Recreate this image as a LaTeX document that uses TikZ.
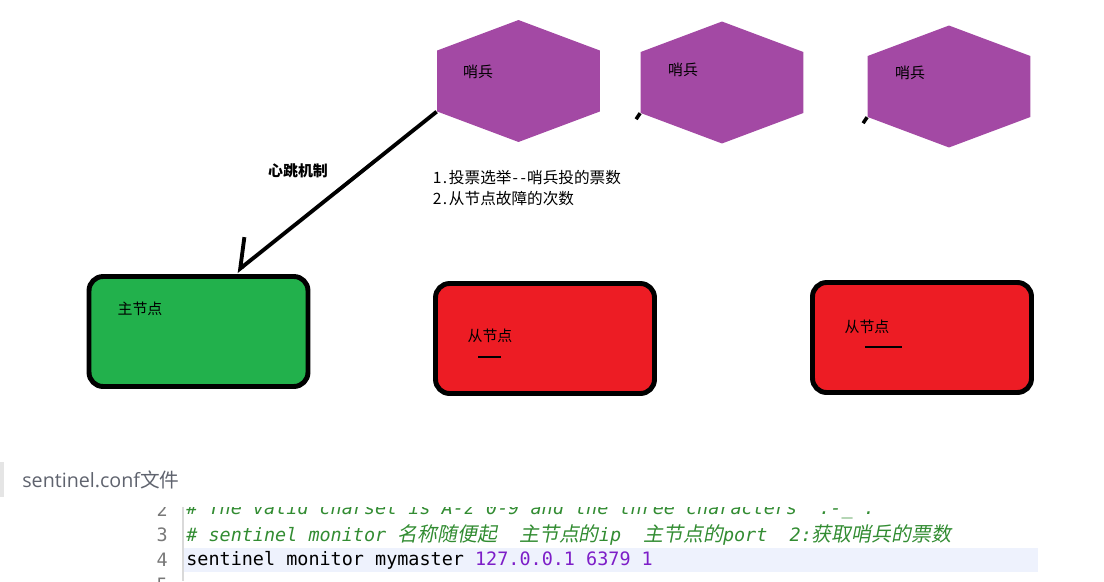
\documentclass[tikz,border=0pt]{standalone}
\usepackage{fontspec}
\newfontfamily\cjk{Noto Sans CJK SC}
\newfontfamily\cjkit[FakeSlant=0.2, Scale=1.08]{Noto Sans CJK SC}
\newfontfamily\codefont{DejaVu Sans Mono}
\newfontfamily\uifont{Open Sans}
\usetikzlibrary{shapes.geometric, arrows.meta, positioning}
\definecolor{sentinelpurple}{RGB}{163,73,164}
\definecolor{mastergreen}{RGB}{34,177,76}
\definecolor{slavered}{RGB}{237,28,36}
\definecolor{commentgreen}{RGB}{50,140,50}
\definecolor{numberpurple}{RGB}{125,30,200}
\definecolor{linehl}{RGB}{238,242,253}
\definecolor{gutter}{RGB}{120,120,120}
\definecolor{uigray}{RGB}{95,99,110}
% half-width latin characters in the notes
\newcommand\halfw[1]{\makebox[0.5em]{#1}}

\begin{document}
\begin{tikzpicture}[
    x=0.02cm, y=-0.02cm,
    sentinel/.style={regular polygon, regular polygon sides=6, shape border rotate=30, minimum size=2.44cm, inner sep=0pt, xscale=1.54, fill=sentinelpurple},
    redisbox/.style={rectangle, draw=black, line width=2.8pt, rounded corners=8pt, minimum width=4.38cm, minimum height=2.2cm},
    label/.style={font=\cjk\fontsize{8.5}{10}\selectfont, inner sep=0pt},
    note/.style={font=\cjk\fontsize{8.9}{10}\selectfont, inner sep=0pt, anchor=west},
    code/.style={font=\codefont\fontsize{10.5}{12}\selectfont, inner sep=0pt, anchor=west},
    lineno/.style={font=\codefont\fontsize{10.5}{12}\selectfont, text=gutter, inner sep=0pt, anchor=east}
]
    \useasboundingbox (0,0) rectangle (1104,581);

    % --- Sentinels ---
    \node [sentinel] (sentA) at (518.5,81) {};
    \node [sentinel] (sentB) at (722,82.5) {};
    \node [sentinel] (sentC) at (949,86.5) {};
    \node [label] (sentAtext) at (478,72) {哨兵};
    \node [label] (sentBtext) at (683,70) {哨兵};
    \node [label] (sentCtext) at (910,73) {哨兵};

    % --- Redis nodes ---
    \node [redisbox, fill=mastergreen] (master) at (198.5,331.5) {};
    \node [redisbox, fill=slavered] (slaveA) at (545,338.5) {};
    \node [redisbox, fill=slavered] (slaveB) at (922,337.5) {};
    \node [label] (mastertext) at (140,309) {主节点};
    \node [label] (slaveAtext) at (490,336) {从节点};
    \node [label] (slaveBtext) at (867,327) {从节点};
    \draw [line width=0.6pt] (478,357) -- (501,357);
    \draw [line width=0.6pt] (865,347) -- (902,347);

    % --- Heartbeat ---
    \draw [line width=2.2pt, -{Straight Barb[right, length=13pt, width=25pt]}] (sentA.corner 3) -- ([xshift=0.76cm, yshift=0.05cm]master.north);
    \draw [line width=2pt] (sentB.corner 3) -- ++(-4,6);
    \draw [line width=2pt] (sentC.corner 3) -- ++(-4,6);
    \node [label, font=\cjk\bfseries\fontsize{8.5}{10}\selectfont] (heartbeat) at (298,171) {心跳机制};
    \node [note] (noteA) at (433,178) {\halfw{1}\halfw{.}投票选举\halfw{-}\halfw{-}哨兵投的票数};
    \node [note] (noteB) at (433,199) {\halfw{2}\halfw{.}从节点故障的次数};

    % --- Config file ---
    \fill [gray!20] (0,462) rectangle (4,497);
    \node [anchor=west, inner sep=0pt, text=uigray, font=\uifont\fontsize{11.2}{13}\selectfont] (conftitle) at (22,480) {sentinel.conf{\cjk 文件}};

    \begin{scope}
        \clip (140,507) rectangle (1104,581);
        \fill [linehl] (184,548) rectangle (1038,572);
        \draw [gray!30, line width=0.6pt] (183,500) -- (183,581);
        \node [lineno] (ln2) at (168,510) {2};
        \node [lineno] (ln3) at (168,535) {3};
        \node [lineno] (ln4) at (168,560) {4};
        \node [lineno] (ln5) at (168,585) {5};
        \node [code, text=commentgreen] (line2) at (186,510) {\itshape\# The valid charset is A-z 0-9 and the three characters ".-\_".};
        \node [code, text=commentgreen] (line3) at (186,535) {\itshape\# sentinel monitor {\cjkit 名称随便起}\ \ {\cjkit 主节点的}ip\ \ {\cjkit 主节点的}port\ \ 2:{\cjkit 获取哨兵的票数}};
        \node [code] (line4) at (186,560) {sentinel monitor mymaster {\color{numberpurple}127.0.0.1 6379 1}};
    \end{scope}

\end{tikzpicture}
\end{document}
